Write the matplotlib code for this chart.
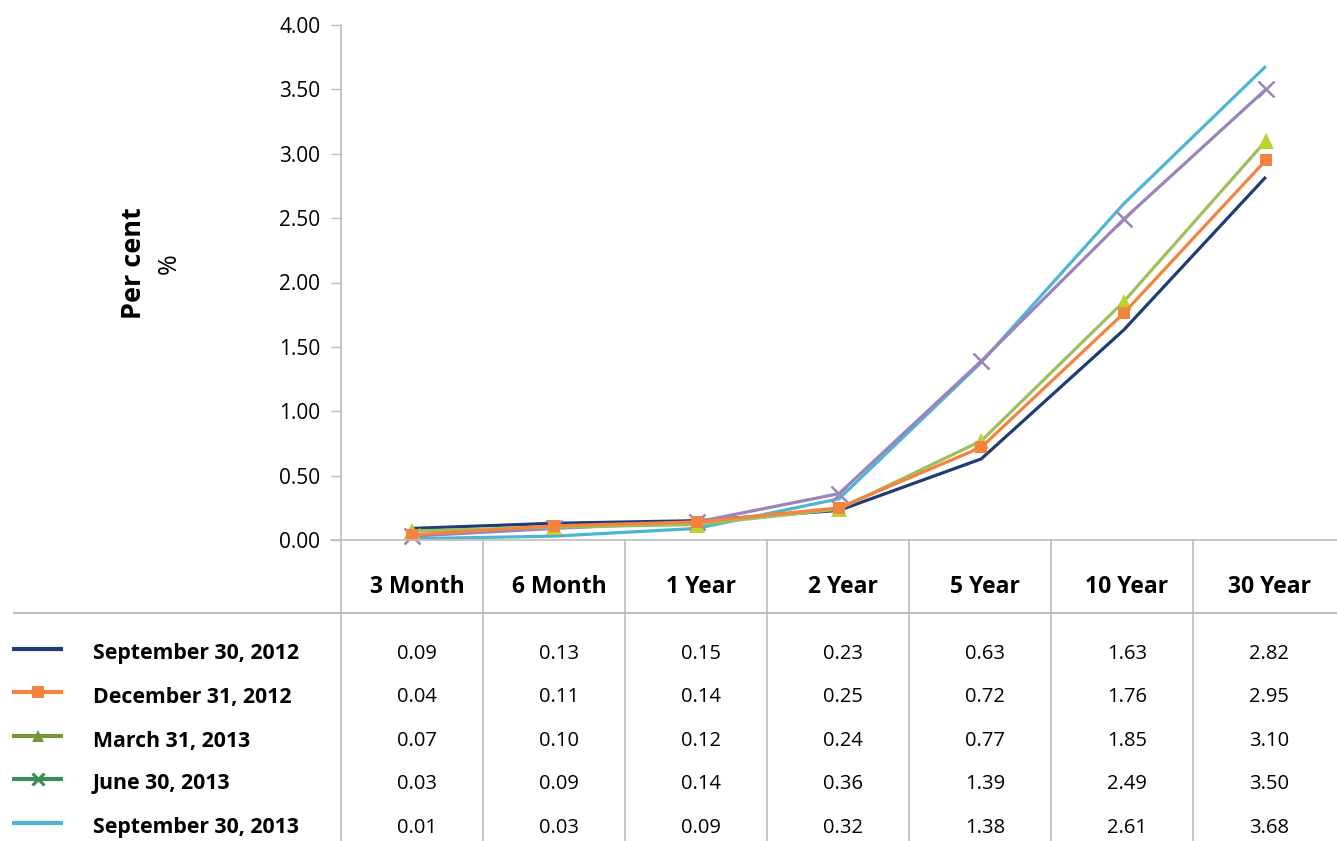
import matplotlib
matplotlib.use("Agg")
import matplotlib.pyplot as plt
from matplotlib.lines import Line2D

plt.rcParams['font.family'] = ['Open Sans', 'DejaVu Sans']

# Government bond yield curve data (per cent)
tenors = ["3 Month", "6 Month", "1 Year", "2 Year", "5 Year", "10 Year", "30 Year"]
series_names = ["September 30, 2012", "December 31, 2012", "March 31, 2013",
                "June 30, 2013", "September 30, 2013"]
sep_2012 = [0.09, 0.13, 0.15, 0.23, 0.63, 1.63, 2.82]
dec_2012 = [0.04, 0.11, 0.14, 0.25, 0.72, 1.76, 2.95]
mar_2013 = [0.07, 0.10, 0.12, 0.24, 0.77, 1.85, 3.10]
jun_2013 = [0.03, 0.09, 0.14, 0.36, 1.39, 2.49, 3.50]
sep_2013 = [0.01, 0.03, 0.09, 0.32, 1.38, 2.61, 3.68]
y_ticks = [0.0, 0.5, 1.0, 1.5, 2.0, 2.5, 3.0, 3.5, 4.0]

values = [sep_2012, dec_2012, mar_2013, jun_2013, sep_2013]

W, H = 1337, 841
fig = plt.figure(figsize=(W / 100, H / 100), dpi=100)
GRID = "#BDBDBD"

# plot styles: (line colour, marker, marker colour, marker size, edge width)
plot_styles = [
    ("#1F3C74", None, None, 0, 0),
    ("#F58340", "s", "#F58340", 8.5, 0),
    ("#9DBF5E", "^", "#B8D432", 11, 0),
    ("#9A84BC", "x", "#9A84BC", 11, 1.8),
    ("#4DB6D2", None, None, 0, 0),
]
# legend-key styles in the table
key_styles = [
    ("#1F3C74", None),
    ("#F58340", "s"),
    ("#77963A", "^"),
    ("#3E8C58", "x"),
    ("#4DB6D2", None),
]
draw_order = [0, 4, 3, 2, 1]

ax = fig.add_axes([341 / W, 1 - 540 / H, 1 - 341 / W, 515 / H])
xs = [i + 0.5 for i in range(len(tenors))]
for z, idx in enumerate(draw_order):
    col, mk, mc, ms, mew = plot_styles[idx]
    ax.plot(xs, values[idx], color=col, lw=2.3, marker=mk, markersize=ms,
            markerfacecolor=mc, markeredgecolor=mc, markeredgewidth=mew,
            solid_capstyle="butt", zorder=3 + z, clip_on=False)

ax.set_xlim(0, len(tenors))
ax.set_ylim(0, 4)
ax.set_yticks(y_ticks)
ax.set_yticklabels([f"{v:.2f}" for v in y_ticks])
ax.set_xticks([])
ax.tick_params(axis="y", length=7, width=1, color=GRID, pad=8, labelsize=15)
for s in ["top", "right", "bottom"]:
    ax.spines[s].set_visible(False)
ax.spines["left"].set_color(GRID)
ax.spines["left"].set_linewidth(1.2)
ax.patch.set_alpha(0)

fig.text(134 / W, 1 - 263 / H, "Per cent", rotation=90, fontsize=19.5,
         fontweight="bold", ha="center", va="center")
fig.text(169 / W, 1 - 264 / H, "%", rotation=90, fontsize=18,
         ha="center", va="center")

# data table beneath the chart, laid out in pixel coordinates
tb = fig.add_axes([0, 0, 1, 1])
tb.set_xlim(0, W)
tb.set_ylim(H, 0)
tb.axis("off")
tb.patch.set_alpha(0)

col_edges = [341 + 142 * i for i in range(len(tenors) + 1)]
text_x = [(col_edges[i] + col_edges[i + 1]) / 2 + 5 for i in range(len(tenors))]

tb.plot([331, W], [540, 540], color=GRID, lw=1.2, zorder=1)
tb.plot([14, W], [613, 613], color=GRID, lw=1.5, zorder=1)
for x in col_edges[:-1]:
    tb.plot([x, x], [540, H], color=GRID, lw=1.2, zorder=1)

for c, name in zip(text_x, tenors):
    tb.text(c, 587, name, ha="center", va="center", fontsize=16.5,
            fontweight="bold")

row_y = [654, 697, 741, 784, 828]
for r, (name, vals) in enumerate(zip(series_names, values)):
    y = row_y[r]
    col, mk = key_styles[r]
    tb.add_line(Line2D([12, 63], [y - 5, y - 5], color=col, lw=3.0,
                       solid_capstyle="butt"))
    if mk is not None:
        tb.add_line(Line2D([37.5], [y - 5], marker=mk,
                           markersize=8 if mk != "x" else 9,
                           markerfacecolor=col, markeredgecolor=col,
                           markeredgewidth=0 if mk != "x" else 2.2,
                           linestyle="none"))
    tb.text(93, y, name, ha="left", va="center", fontsize=15.3,
            fontweight="bold")
    for c, v in zip(text_x, vals):
        tb.text(c, y, f"{v:.2f}", ha="center", va="center", fontsize=14.5)

fig.savefig("out.png", dpi=100)
